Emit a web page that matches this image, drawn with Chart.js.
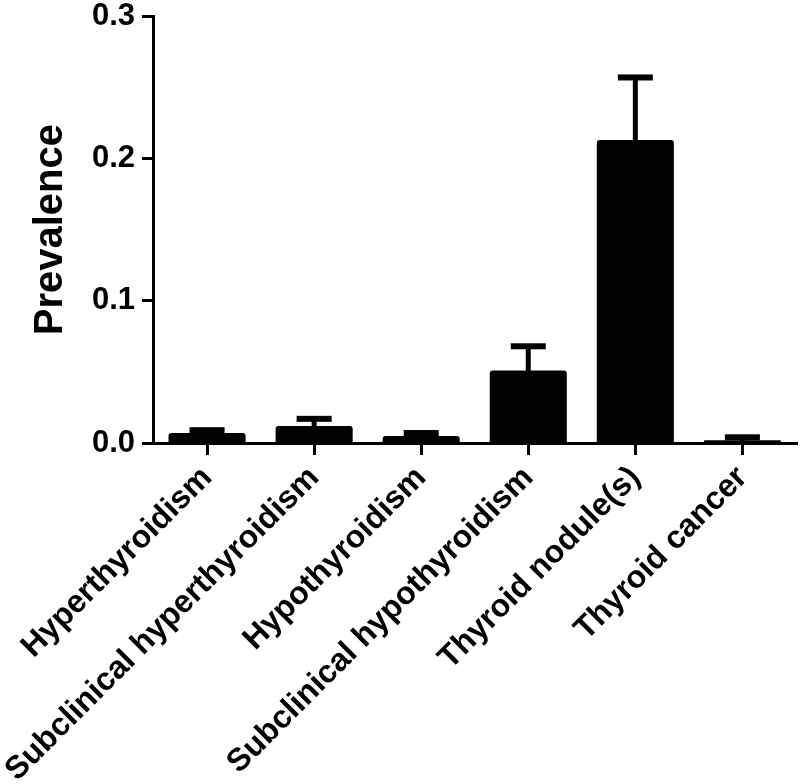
<!DOCTYPE html>
<html>
<head>
<meta charset="utf-8">
<script src="https://cdn.jsdelivr.net/npm/chart.js@4.4.1/dist/chart.umd.min.js"></script>
<style>
    body { margin: 0; background: #ffffff; }
</style>
</head>
<body>
<canvas id="myChart" width="800" height="784"></canvas>
<script>
// data
const categories = ['Hyperthyroidism', 'Subclinical hyperthyroidism', 'Hypothyroidism', 'Subclinical hypothyroidism', 'Thyroid nodule(s)', 'Thyroid cancer'];
const prevalence = [0.007, 0.012, 0.005, 0.051, 0.213, 0.002];
const upperError = [0.009, 0.017, 0.007, 0.068, 0.257, 0.004];
const yTicks = [0, 0.1, 0.2, 0.3];

const font = "'Liberation Sans', Arial, sans-serif";

// error bars (upper only)
const errorBars = {
    id: 'errorBars',
    afterDatasetsDraw(chart) {
        const ctx = chart.ctx;
        const meta = chart.getDatasetMeta(0);
        const y = chart.scales.y;
        ctx.save();
        ctx.fillStyle = '#000';
        meta.data.forEach(function (bar, i) {
            const top = y.getPixelForValue(upperError[i]);
            const base = bar.y;
            ctx.fillRect(bar.x - 2.5, top, 5, base - top + 1);
            ctx.fillRect(bar.x - 17.5, top - 3, 35, 6);
        });
        ctx.restore();
    }
};

const whiteBg = {
    id: 'whiteBg',
    beforeDraw(chart) {
        const ctx = chart.ctx;
        ctx.save();
        ctx.fillStyle = '#fff';
        ctx.fillRect(0, 0, chart.width, chart.height);
        ctx.restore();
    }
};

const data = {
    datasets: [
        {
            label: 'Prevalence',
            data: prevalence.map(function (v, i) { return { x: i, y: v }; }),
            backgroundColor: '#000',
            borderColor: '#000',
            borderWidth: 0,
            borderRadius: 3,
            categoryPercentage: 0.8,
            barPercentage: 0.9
        }
    ]
};

const config = {
    type: 'bar',
    data,
    options: {
        responsive: false,
        animation: false,
        layout: { padding: { top: 0, right: 3, left: 0, bottom: 0 } },
        plugins: {
            legend: { display: false },
            tooltip: { enabled: false }
        },
        scales: {
            x: {
                type: 'linear',
                min: -0.505,
                max: 5.51,
                offset: false,
                afterBuildTicks: function (scale) {
                    scale.ticks = categories.map(function (c, i) { return { value: i }; });
                },
                afterFit: function (scale) { scale.height = 341; },
                border: { display: true, color: '#000', width: 3 },
                grid: {
                    offset: false,
                    drawOnChartArea: false,
                    drawTicks: true,
                    tickLength: 12,
                    tickColor: '#000',
                    tickWidth: 3
                },
                ticks: {
                    autoSkip: false,
                    minRotation: 45,
                    maxRotation: 45,
                    padding: 4,
                    color: '#000',
                    font: { family: font, size: 32, weight: 'bold' },
                    callback: function (value) { return categories[value]; }
                }
            },
            y: {
                min: 0,
                max: 0.3,
                afterBuildTicks: function (scale) {
                    scale.ticks = yTicks.map(function (v) { return { value: v }; });
                },
                afterFit: function (scale) { scale.width = 153; },
                border: { display: true, color: '#000', width: 3 },
                grid: {
                    drawOnChartArea: false,
                    drawTicks: true,
                    tickLength: 11,
                    tickColor: '#000',
                    tickWidth: 3
                },
                title: {
                    display: true,
                    text: 'Prevalence',
                    color: '#000',
                    font: { family: font, size: 40, weight: 'bold' },
                    padding: { top: 27, bottom: 0 }
                },
                ticks: {
                    padding: 7,
                    color: '#000',
                    font: { family: font, size: 31, weight: 'bold', lineHeight: 0.6 },
                    callback: function (value) { return value.toFixed(1); }
                }
            }
        }
    },
    plugins: [whiteBg, errorBars]
};

const myChart = new Chart(document.getElementById('myChart'), config);
</script>
</body>
</html>
